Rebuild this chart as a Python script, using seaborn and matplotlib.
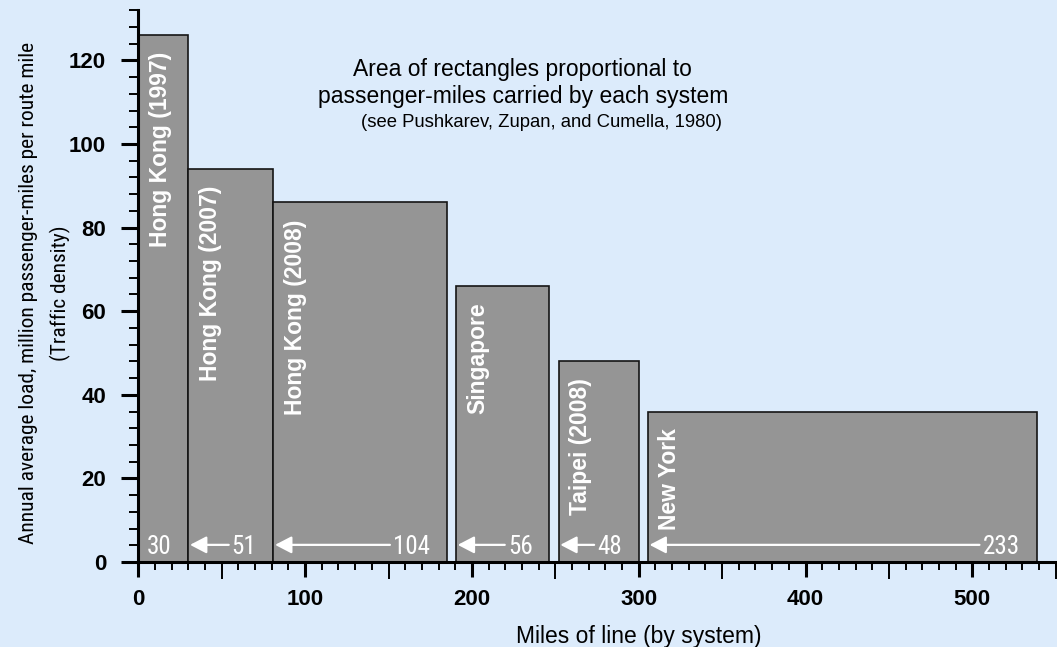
import numpy as np
import matplotlib
matplotlib.use("Agg")
import matplotlib.pyplot as plt
from matplotlib import font_manager as fm
import seaborn as sns

# ---------------- data ----------------
systems = ["Hong Kong (1997)", "Hong Kong (2007)", "Hong Kong (2008)",
           "Singapore", "Taipei (2008)", "New York"]
miles = [30, 51, 104, 56, 48, 233]          # miles of line (rectangle widths)
density = [126, 94, 86, 66, 48, 36]         # million passenger-miles per route mile
x_ticks = [0, 100, 200, 300, 400, 500]
y_ticks = [0, 20, 40, 60, 80, 100, 120]

title_lines = ["Area of rectangles proportional to",
               "passenger-miles carried by each system"]
source_line = "(see Pushkarev, Zupan, and Cumella, 1980)"
x_label = "Miles of line (by system)"
y_label_lines = ["Annual average load, million passenger-miles per route mile",
                 "(Traffic density)"]

# ---------------- style ----------------
BG = "#DCEBFB"
BAR = "#959595"
BAR_GAPS = [0, 0, 5.5, 5.5, 5.5]   # spacing between consecutive rectangles

sns.set_theme(style="ticks")
plt.rcParams["font.family"] = ["Liberation Sans", "DejaVu Sans"]

# look for a narrow / condensed sans face
narrow_file = None
prefs = ["LiberationSansNarrow-Regular", "ArialNarrow", "RobotoCondensed-Regular",
         "NotoSans-Condensed", "OpenSans-Condensed", "DejaVuSansCondensed."]
files = [f.fname for f in fm.fontManager.ttflist]
for p in prefs:
    hits = [f for f in files if p.lower() in f.replace(" ", "").lower()]
    if hits:
        narrow_file = sorted(hits, key=len)[0]
        break
if narrow_file is None:
    for f in fm.fontManager.ttflist:
        if f.stretch in ("condensed", "semi-condensed") and f.style == "normal" and f.weight in (400, "normal"):
            narrow_file = f.fname
            break


def narrow_fp(size):
    if narrow_file:
        return fm.FontProperties(fname=narrow_file, size=size)
    return fm.FontProperties(family="Liberation Sans", size=size)


W, H = 1057, 647
fig = plt.figure(figsize=(W / 100, H / 100), dpi=100, facecolor=BG)
x0_px, x1_px = 138.3, 1055.7
y0_px, y1_px = 562.0, 10.2
ax = fig.add_axes([x0_px / W, (H - y0_px) / H, (x1_px - x0_px) / W, (y0_px - y1_px) / H])
ax.set_facecolor(BG)
ax.set_xlim(0, 550)
ax.set_ylim(0, 132)

# rectangle positions
starts = [0.0]
for m, g in zip(miles[:-1], BAR_GAPS):
    starts.append(starts[-1] + m + g)

ax.bar(starts, density, width=miles, align="edge", color=BAR,
       edgecolor="#151515", linewidth=1.2, zorder=2)

# spines & ticks
for s in ["top", "right"]:
    ax.spines[s].set_visible(False)
for s in ["left", "bottom"]:
    ax.spines[s].set_linewidth(2.2)
    ax.spines[s].set_color("black")
    ax.spines[s].set_zorder(5)

ax.set_xticks(x_ticks)
ax.set_xticks(np.arange(0, 551, 10), minor=True)
ax.set_yticks(y_ticks)
ax.set_yticks(np.arange(0, 133, 4), minor=True)
ax.tick_params(axis="x", which="major", length=10.5, width=2.2, color="black",
               labelsize=16, pad=9, direction="out")
ax.tick_params(axis="x", which="minor", length=5.8, width=1.4, color="black", direction="out")
ax.tick_params(axis="y", which="major", length=12.2, width=2.2, color="black",
               labelsize=16, pad=11, direction="out")
ax.tick_params(axis="y", which="minor", length=6.5, width=1.4, color="black", direction="out")
for lab in ax.get_xticklabels() + ax.get_yticklabels():
    lab.set_fontweight("bold")
    lab.set_color("black")

sec = ax.secondary_xaxis("bottom")
sec.set_xticks(np.arange(50, 551, 100))
sec.tick_params(axis="x", length=12, width=1.4, color="black", labelbottom=False, direction="out")
sec.spines["bottom"].set_visible(False)
ax.grid(False)

# system labels inside rectangles
for name, st, top in zip(systems, starts, density):
    ax.annotate(name, xy=(st, top), xytext=(7.5, -12), textcoords="offset points",
                rotation=90, ha="left", va="top", color="white",
                fontsize=16.5, fontweight="bold", zorder=4)

# width values + arrows
num_texts = []
for m, st in zip(miles, starts):
    t = ax.annotate(str(m), xy=(st + m, 2.0), xytext=(-12.2, 0), textcoords="offset points",
                    ha="right", va="baseline", color="white", zorder=4,
                    fontproperties=narrow_fp(18))
    num_texts.append(t)

# explanatory text
ax.text(230.5, 116.3, title_lines[0], ha="center", va="baseline", fontsize=16.5, color="black")
ax.text(230.5, 109.8, title_lines[1], ha="center", va="baseline", fontsize=16.5, color="black")
ax.text(242, 104.1, source_line, ha="center", va="baseline", fontsize=13.3, color="black")

# axis labels
fig.text(639 / W, (H - 642.7) / H, x_label, ha="center", va="baseline", fontsize=16.5, color="black")

# y label: two lines, first line fitted to the reference length (~500 px)
yl1 = fig.text(29 / W, 1 - 293 / H, y_label_lines[0], rotation=90, ha="center", va="center",
               color="black", fontproperties=narrow_fp(17))
fig.canvas.draw()
r = fig.canvas.get_renderer()
ln = yl1.get_window_extent(r).height
if ln > 502:
    yl1.set_fontproperties(narrow_fp(17 * 502 / ln))
fs1 = yl1.get_fontproperties().get_size_in_points()
yl2 = fig.text(60 / W, 1 - 293 / H, y_label_lines[1], rotation=90, ha="center", va="center",
               color="black", fontproperties=narrow_fp(fs1))

fig.canvas.draw()
inv = ax.transData.inverted()
for i, (m, st, t) in enumerate(zip(miles, starts, num_texts)):
    if i == 0:
        continue
    bb = t.get_window_extent()
    tail = inv.transform((bb.x0 - 3, 0))[0]
    ax.annotate("", xy=(st + 1.0, 4.1), xytext=(tail, 4.1),
                arrowprops=dict(arrowstyle="-|>,head_length=0.5,head_width=0.26",
                                mutation_scale=20, color="white", lw=1.6,
                                shrinkA=0, shrinkB=0), zorder=4)

fig.savefig("out.png", dpi=100, facecolor=BG)
